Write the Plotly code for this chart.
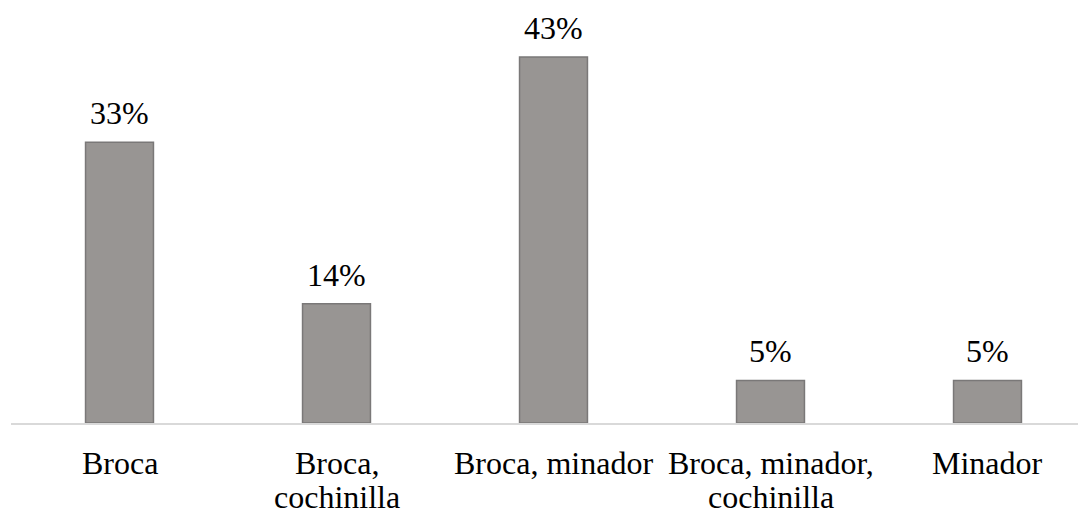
import plotly.graph_objects as go

categories = ["Broca", "Broca,<br>cochinilla", "Broca, minador", "Broca, minador,<br>cochinilla", "Minador"]
values = [33, 14, 43, 5, 5]
labels = ["33%", "14%", "43%", "5%", "5%"]

FONT = "Liberation Serif, Times New Roman, serif"
FS = 32
xs = list(range(len(categories)))

fig = go.Figure(go.Bar(
    x=xs,
    y=values,
    marker=dict(color="#989593", line=dict(color="#7a7878", width=1.5)),
    width=0.313,
    hoverinfo="skip",
))

annotations = []
# value labels above bars
for x, v, t in zip(xs, values, labels):
    annotations.append(dict(
        x=x, y=v, xref="x", yref="y", text=t, showarrow=False,
        xanchor="center", yanchor="bottom", yshift=9,
        font=dict(family=FONT, size=FS, color="#000000"),
    ))
# category labels (split into lines with tighter spacing)
for x, cat in zip(xs, categories):
    for k, line in enumerate(cat.split("<br>")):
        annotations.append(dict(
            x=x, y=0, xref="x", yref="paper", text=line, showarrow=False,
            xanchor="center", yanchor="top", yshift=-20 - 34 * k,
            font=dict(family=FONT, size=FS, color="#000000"),
        ))

fig.update_layout(
    width=1078, height=500,
    margin=dict(l=3, r=0, t=0, b=85),
    paper_bgcolor="white", plot_bgcolor="white",
    showlegend=False,
    font=dict(family=FONT, size=FS, color="#000000"),
    annotations=annotations,
    xaxis=dict(
        range=[-0.5, -0.5 + 1075 / 217],
        showticklabels=False,
        showgrid=False, zeroline=False,
        showline=True, linecolor="#d9d9d9", linewidth=1.5,
        ticks="",
    ),
    yaxis=dict(range=[0, 415 / 8.51], visible=False),
)

fig.write_html("out.html")
